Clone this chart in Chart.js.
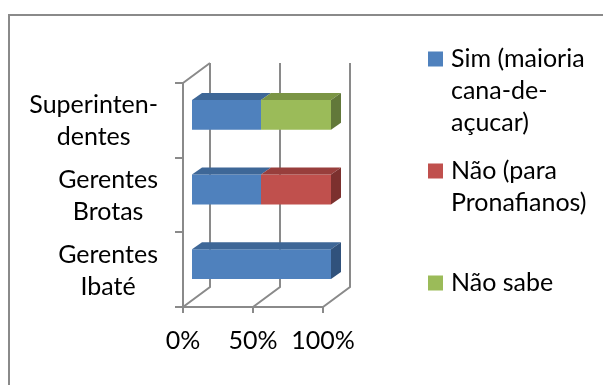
<!DOCTYPE html>
<html>
<head>
<meta charset="utf-8">
<script src="https://cdn.jsdelivr.net/npm/chart.js@4"></script>
<style>
  html, body { margin: 0; padding: 0; background: #fff; }
</style>
</head>
<body>
<canvas id="grafico" width="603" height="385"></canvas>
<script>
// Categorias (de cima para baixo)
const categorias = [
  ["Superinten-", "dentes"],
  ["Gerentes", "Brotas"],
  ["Gerentes", "Ibaté"],
];

// Séries (percentual de respostas)
const series = ["Sim (maioria cana-de-açucar)", "Não (para Pronafianos)", "Não sabe"];
const legendaLinhas = [["Sim (maioria", "cana-de-", "açucar)"], ["Não (para", "Pronafianos)"], ["Não sabe"]];
const sim = [50, 50, 100];
const nao = [0, 50, 0];
const naoSabe = [50, 0, 0];

const ticksX = [0, 50, 100];

// Cores: frente, topo e lateral das barras
const cores = ["#4F81BD", "#C0504D", "#9BBB59"];
const coresTopo = ["#3E6797", "#983E3C", "#7B9545"];
const coresLado = ["#30527C", "#7C302E", "#62783A"];

const FONTE = "Lato, 'Liberation Sans', sans-serif";
const TAM = 25;
const ALT_LINHA = 32;
const CINZA = "#8A8A8A";
const PROF = { dx: 27, dy: -20 };                // profundidade das paredes
const BARRA = { dx: 8, dy: -5.5, px: 10, py: -7 }; // posição e espessura das barras

// Paredes, chão e faces 3D das barras
const efeito3d = {
  id: "efeito3d",
  beforeDatasetsDraw(chart) {
    const ctx = chart.ctx;
    const { top, bottom, left } = chart.chartArea;
    const x = chart.scales.x;
    ctx.save();
    ctx.strokeStyle = CINZA;
    ctx.lineWidth = 2;
    ctx.beginPath();
    ctx.moveTo(left, top);
    ctx.lineTo(left + PROF.dx, top + PROF.dy);
    ticksX.forEach((v) => {
      const px = x.getPixelForValue(v);
      ctx.moveTo(px, bottom);
      ctx.lineTo(px + PROF.dx, bottom + PROF.dy);
      ctx.lineTo(px + PROF.dx, top + PROF.dy);
    });
    ctx.stroke();
    ctx.restore();

    ctx.save();
    ctx.translate(BARRA.dx, BARRA.dy);
  },
  afterDatasetsDraw(chart) {
    const ctx = chart.ctx;
    const fim = [];
    chart.data.datasets.forEach((ds, i) => {
      chart.getDatasetMeta(i).data.forEach((bar, j) => {
        const { x, y, base, height } = bar.getProps(["x", "y", "base", "height"], true);
        const x0 = Math.min(base, x), x1 = Math.max(base, x);
        if (x1 - x0 < 0.5) return;
        const y0 = y - height / 2;
        ctx.fillStyle = coresTopo[i];
        ctx.beginPath();
        ctx.moveTo(x0, y0);
        ctx.lineTo(x1, y0);
        ctx.lineTo(x1 + BARRA.px, y0 + BARRA.py);
        ctx.lineTo(x0 + BARRA.px, y0 + BARRA.py);
        ctx.closePath();
        ctx.fill();
        if (!fim[j] || x1 >= fim[j].x1) fim[j] = { x1, y0, y1: y + height / 2, i };
      });
    });
    // lateral só no fim de cada barra empilhada
    fim.forEach((f) => {
      if (!f) return;
      ctx.fillStyle = coresLado[f.i];
      ctx.beginPath();
      ctx.moveTo(f.x1, f.y0);
      ctx.lineTo(f.x1 + BARRA.px, f.y0 + BARRA.py);
      ctx.lineTo(f.x1 + BARRA.px, f.y1 + BARRA.py);
      ctx.lineTo(f.x1, f.y1);
      ctx.closePath();
      ctx.fill();
    });
    ctx.restore();
  },
};

// Rótulos das categorias, legenda e moldura
const textos = {
  id: "textos",
  afterDraw(chart) {
    const ctx = chart.ctx;
    const y = chart.scales.y;
    ctx.save();
    ctx.font = TAM + "px " + FONTE;
    ctx.fillStyle = "#000";
    ctx.textBaseline = "middle";

    ctx.textAlign = "center";
    categorias.forEach((linhas, j) => {
      const larg = Math.max(...linhas.map((l) => ctx.measureText(l).width));
      const cx = 158 - larg / 2;
      const cy = y.getPixelForValue(j) + 1;
      linhas.forEach((l, k) => {
        ctx.fillText(l, cx, cy + (k - (linhas.length - 1) / 2) * ALT_LINHA);
      });
    });

    ctx.textAlign = "left";
    legendaLinhas.forEach((linhas, i) => {
      const centro = 187 + (i - 1) * 96;
      const y0 = centro - ((linhas.length - 1) / 2) * ALT_LINHA;
      ctx.fillStyle = cores[i];
      ctx.fillRect(428, y0 - 7.5, 15, 15);
      ctx.fillStyle = "#000";
      linhas.forEach((l, k) => ctx.fillText(l, 451, y0 + k * ALT_LINHA));
    });

    ctx.strokeStyle = CINZA;
    ctx.lineWidth = 2;
    ctx.beginPath();
    ctx.moveTo(9, 385);
    ctx.lineTo(9, 15);
    ctx.lineTo(603, 15);
    ctx.stroke();
    ctx.restore();
  },
};

new Chart(document.getElementById("grafico"), {
  type: "bar",
  data: {
    labels: categorias,
    datasets: [
      { label: series[0], data: sim, backgroundColor: cores[0] },
      { label: series[1], data: nao, backgroundColor: cores[1] },
      { label: series[2], data: naoSabe, backgroundColor: cores[2] },
    ],
  },
  options: {
    indexAxis: "y",
    responsive: false,
    animation: false,
    layout: { padding: { left: 175, right: 280, top: 83, bottom: 16 } },
    datasets: {
      bar: { barPercentage: 0.4, categoryPercentage: 1, borderWidth: 0, clip: false },
    },
    plugins: {
      legend: { display: false },
      tooltip: { enabled: false },
    },
    scales: {
      x: {
        stacked: true,
        min: 0,
        max: 100,
        afterBuildTicks: (axis) => { axis.ticks = ticksX.map((v) => ({ value: v })); },
        ticks: {
          callback: (v) => v + "%",
          color: "#000",
          padding: 13,
          maxRotation: 0,
          font: { family: FONTE, size: TAM },
        },
        grid: { drawOnChartArea: false, tickLength: 6, color: CINZA, lineWidth: 2 },
        border: { display: true, color: CINZA, width: 2 },
      },
      y: {
        stacked: true,
        ticks: { display: false },
        grid: { drawOnChartArea: false, tickLength: 8, color: CINZA, lineWidth: 2, offset: true },
        border: { display: true, color: CINZA, width: 2 },
      },
    },
  },
  plugins: [efeito3d, textos],
});
</script>
</body>
</html>
